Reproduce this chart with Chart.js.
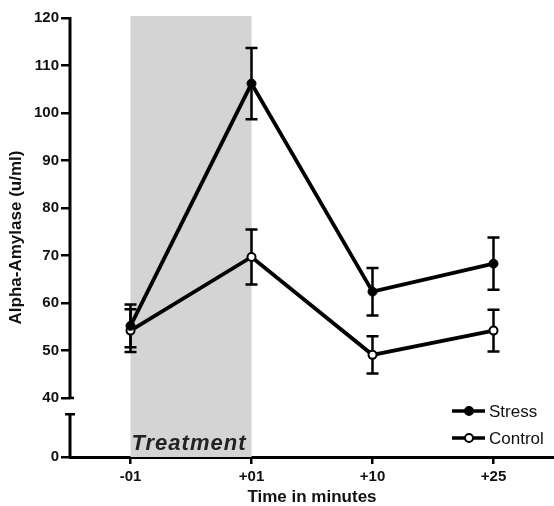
<!DOCTYPE html>
<html>
<head>
<meta charset="utf-8">
<script src="https://cdn.jsdelivr.net/npm/chart.js@4.4.0/dist/chart.umd.min.js"></script>
<style>
  html, body { margin: 0; padding: 0; background: #fff; overflow: hidden; }
  #wrap { width: 554px; height: 506px; position: relative; }
</style>
</head>
<body>
<div id="wrap"><canvas id="amylaseChart"></canvas></div>
<script>
// data
const timeLabels = ['-01', '+01', '+10', '+25'];
const stressValues = [55.2, 106.2, 62.4, 68.3];
const stressErrors = [4.5, 7.5, 5.0, 5.5];
const controlValues = [54.2, 69.7, 49.1, 54.2];
const controlErrors = [4.5, 5.8, 3.9, 4.4];
const yTickValues = [40, 50, 60, 70, 80, 90, 100, 110, 120];

// broken axis: the "0" tick sits below 40 on a compressed stretch
const Y_ZERO = 27.6;
const Y_BREAK = 36.6;
const FONT = '"Liberation Sans", Arial, Helvetica, sans-serif';

// grey treatment band between the first two time points
const treatmentBand = {
    id: 'treatmentBand',
    beforeDatasetsDraw(chart) {
        const { ctx, scales: { x, y } } = chart;
        const x0 = x.getPixelForValue(0);
        const x1 = x.getPixelForValue(1);
        const top = y.getPixelForValue(120) - 2;
        const bottom = y.getPixelForValue(Y_ZERO);
        ctx.save();
        ctx.fillStyle = '#d4d4d4';
        ctx.fillRect(x0, top, x1 - x0, bottom - top);
        ctx.fillStyle = '#222';
        ctx.font = 'italic bold 22px ' + FONT;
        ctx.letterSpacing = '1px';
        ctx.textBaseline = 'alphabetic';
        ctx.fillText('Treatment', x0 + 1, bottom - 7);
        ctx.restore();
    }
};

// SEM bars, drawn under lines and markers
const errorBars = {
    id: 'errorBars',
    beforeDatasetsDraw(chart) {
        const { ctx, scales: { x, y } } = chart;
        const errs = [stressErrors, controlErrors];
        ctx.save();
        ctx.strokeStyle = '#000';
        ctx.lineWidth = 2.5;
        chart.data.datasets.forEach((ds, i) => {
            ds.data.forEach((v, j) => {
                const px = x.getPixelForValue(j);
                const hi = y.getPixelForValue(v + errs[i][j]);
                const lo = y.getPixelForValue(v - errs[i][j]);
                ctx.beginPath();
                ctx.moveTo(px, hi); ctx.lineTo(px, lo);
                ctx.moveTo(px - 6, hi); ctx.lineTo(px + 6, hi);
                ctx.moveTo(px - 6, lo); ctx.lineTo(px + 6, lo);
                ctx.stroke();
            });
        });
        ctx.restore();
    }
};

// y axis line in two pieces with the break
const brokenAxis = {
    id: 'brokenAxis',
    afterDraw(chart) {
        const { ctx, chartArea, scales: { y } } = chart;
        const ax = chartArea.left;
        ctx.save();
        ctx.strokeStyle = '#000';
        ctx.lineWidth = 3;
        ctx.beginPath();
        ctx.moveTo(ax, y.getPixelForValue(120) - 1);
        ctx.lineTo(ax, y.getPixelForValue(40));
        ctx.moveTo(ax, y.getPixelForValue(Y_ZERO));
        ctx.lineTo(ax, y.getPixelForValue(Y_BREAK));
        ctx.stroke();
        ctx.lineWidth = 2.5;
        ctx.beginPath();
        ctx.moveTo(ax - 5, y.getPixelForValue(Y_BREAK));
        ctx.lineTo(ax + 5, y.getPixelForValue(Y_BREAK));
        ctx.moveTo(ax - 1, y.getPixelForValue(40));
        ctx.lineTo(ax + 4, y.getPixelForValue(40));
        ctx.stroke();
        ctx.restore();
    }
};

// legend in the lower right: line with marker, then label
const seriesKey = {
    id: 'seriesKey',
    afterDraw(chart) {
        const { ctx, chartArea } = chart;
        const x0 = chartArea.right - 102;
        const rows = [
            { label: 'Stress', y: chartArea.bottom - 46, fill: '#000' },
            { label: 'Control', y: chartArea.bottom - 19, fill: '#fff' }
        ];
        ctx.save();
        rows.forEach(r => {
            ctx.strokeStyle = '#000';
            ctx.lineWidth = 3.5;
            ctx.beginPath();
            ctx.moveTo(x0, r.y); ctx.lineTo(x0 + 33, r.y);
            ctx.stroke();
            ctx.beginPath();
            ctx.arc(x0 + 17, r.y, 4, 0, Math.PI * 2);
            ctx.fillStyle = r.fill;
            ctx.fill();
            ctx.lineWidth = 2;
            ctx.stroke();
            ctx.fillStyle = '#111';
            ctx.font = '17px ' + FONT;
            ctx.textBaseline = 'middle';
            ctx.fillText(r.label, x0 + 37, r.y + 1);
        });
        ctx.restore();
    }
};

const ctx = document.getElementById('amylaseChart').getContext('2d');
new Chart(ctx, {
    type: 'line',
    data: {
        labels: timeLabels,
        datasets: [
            { label: 'Stress', data: stressValues, borderColor: '#000', borderWidth: 3.8,
              pointRadius: 4.5, pointBackgroundColor: '#000', pointBorderColor: '#000', pointBorderWidth: 1 },
            { label: 'Control', data: controlValues, borderColor: '#000', borderWidth: 3.8,
              pointRadius: 4, pointBackgroundColor: '#fff', pointBorderColor: '#000', pointBorderWidth: 2 }
        ]
    },
    options: {
        responsive: true,
        maintainAspectRatio: false,
        animation: false,
        layout: { autoPadding: false, padding: { top: 18, right: 0, left: 0, bottom: 0 } },
        plugins: { legend: { display: false }, tooltip: { enabled: false } },
        scales: {
            x: {
                offset: true,
                border: { display: true, color: '#000', width: 3 },
                grid: { drawOnChartArea: false, drawTicks: true, tickLength: 7, color: '#000', lineWidth: 2.5, offset: false },
                ticks: { color: '#111', padding: 4, font: { family: FONT, size: 15, weight: 'bold' } },
                title: { display: true, text: 'Time in minutes', color: '#111',
                         font: { family: FONT, size: 17, weight: 'bold', lineHeight: 1 }, padding: { top: 0, bottom: 0 } },
                afterFit(scale) {
                    scale.height = 49;
                    scale.paddingLeft = 0;
                    scale.paddingRight = 0;
                }
            },
            y: {
                min: Y_ZERO,
                max: 120,
                border: { display: false },
                grid: { drawOnChartArea: false, drawTicks: true, tickLength: 9, color: '#000', lineWidth: 2.5 },
                afterBuildTicks(scale) {
                    scale.ticks = [{ value: Y_ZERO }].concat(yTickValues.map(v => ({ value: v })));
                },
                ticks: {
                    color: '#111', padding: 2,
                    font: { family: FONT, size: 15, weight: 'bold' },
                    callback: v => (v === Y_ZERO ? '0' : v)
                },
                title: { display: true, text: 'Alpha-Amylase (u/ml)', color: '#111',
                         font: { family: FONT, size: 17, weight: 'bold', lineHeight: 1 }, padding: { top: 8, bottom: 0 } },
                afterFit(scale) { scale.width = 70; }
            }
        }
    },
    plugins: [treatmentBand, errorBars, brokenAxis, seriesKey]
});
</script>
</body>
</html>
